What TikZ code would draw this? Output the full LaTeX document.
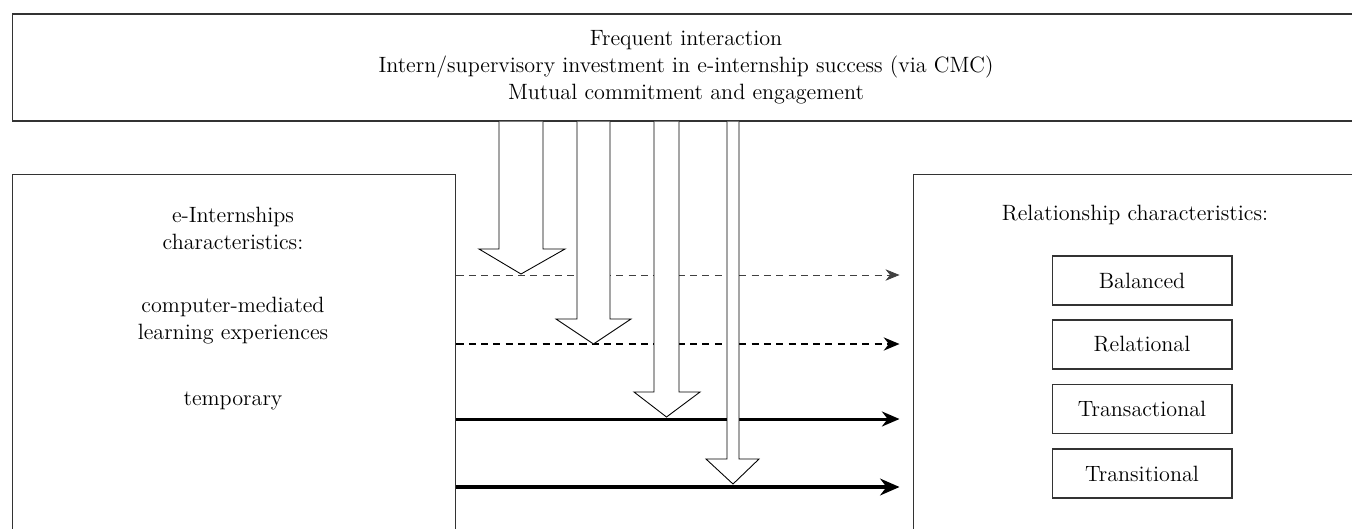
\documentclass[tikz,border=0pt]{standalone}
\usetikzlibrary{positioning, calc, arrows.meta}

\begin{document}
\begin{tikzpicture}[
    x=0.02cm, y=-0.02cm,
    % Styling
    base font/.style={font=\fontsize{12.6}{15.4}\selectfont},
    panel box/.style={
        draw=black!80,
        line width=0.6pt,
        inner sep=0pt
    },
    % Style for the four relationship types
    type box/.style={
        panel box,
        base font,
        minimum width=3.6cm,
        minimum height=0.98cm
    },
    body text/.style={
        base font,
        align=center
    },
    % Horizontal flows, thin to thick
    flow a/.style={-{Stealth[length=8pt, width=6.5pt]}, draw=black!75, line width=0.45pt, dash pattern=on 4pt off 3pt},
    flow b/.style={-{Stealth[length=9pt, width=7.5pt]}, line width=1.1pt, dash pattern=on 4pt off 3pt},
    flow c/.style={-{Stealth[length=10pt, width=8.5pt]}, line width=1.7pt},
    flow d/.style={-{Stealth[length=11pt, width=9.5pt]}, line width=2.3pt},
    block arrow/.style={
        draw=black,
        fill=white,
        line width=0.5pt,
        line join=miter
    }
]

\useasboundingbox (0,0) rectangle (1352,528);
\clip (0,0) rectangle (1352,528);

% --- Top Panel ---
\node[panel box, body text, minimum width=26.96cm, minimum height=2.14cm] (drivers) at (686,67.5) {
    Frequent interaction\\
    Intern/supervisory investment in e-internship success (via CMC)\\
    Mutual commitment and engagement
};

% --- Side Panels ---
\node[panel box, minimum width=8.88cm, minimum height=7.32cm] (intern) at (234,357) {};
\node[panel box, minimum width=9.04cm, minimum height=7.32cm] (relation) at (1139,357) {};

% --- Left Panel Text ---
\node[body text] (intern-title) at (233,228) {e-Internships\\characteristics:};
\node[body text] (intern-cmc) at (233,321) {computer-mediated\\learning experiences};
\node[body text] (intern-temp) at (233,401) {temporary};

% --- Right Panel Text ---
\node[body text] (relation-title) at (1135,215) {Relationship characteristics:};
\foreach \name/\ypos in {Balanced/280.5, Relational/344.5, Transactional/409, Transitional/473.5} {
    \node[type box] (type-\name) at (1142,\ypos) {\name};
}

% --- The Flows ---
% Format: y position / style
\foreach \ypos/\sty in {275/flow a, 344/flow b, 419/flow c, 487/flow d} {
    \draw[\sty] (intern.east |- 0,\ypos) -- ([xshift=-0.26cm]relation.west |- 0,\ypos);
}

% --- Block Arrows from the top panel ---
% Format: shaft left / shaft right / head top / head left / head right
\foreach \xa/\xb/\yh/\hl/\hr in {499/543/249/479/565, 577/610/319/556/631, 654/679/392/634/700, 727/739/459/706/759} {
    \pgfmathsetmacro{\xTip}{(\xa+\xb)/2}
    \draw[block arrow] (\xa,121.5) -- (\xa,\yh) -- (\hl,\yh) -- (\xTip,\yh+25) -- (\hr,\yh) -- (\xb,\yh) -- (\xb,121.5);
}

\end{tikzpicture}
\end{document}
